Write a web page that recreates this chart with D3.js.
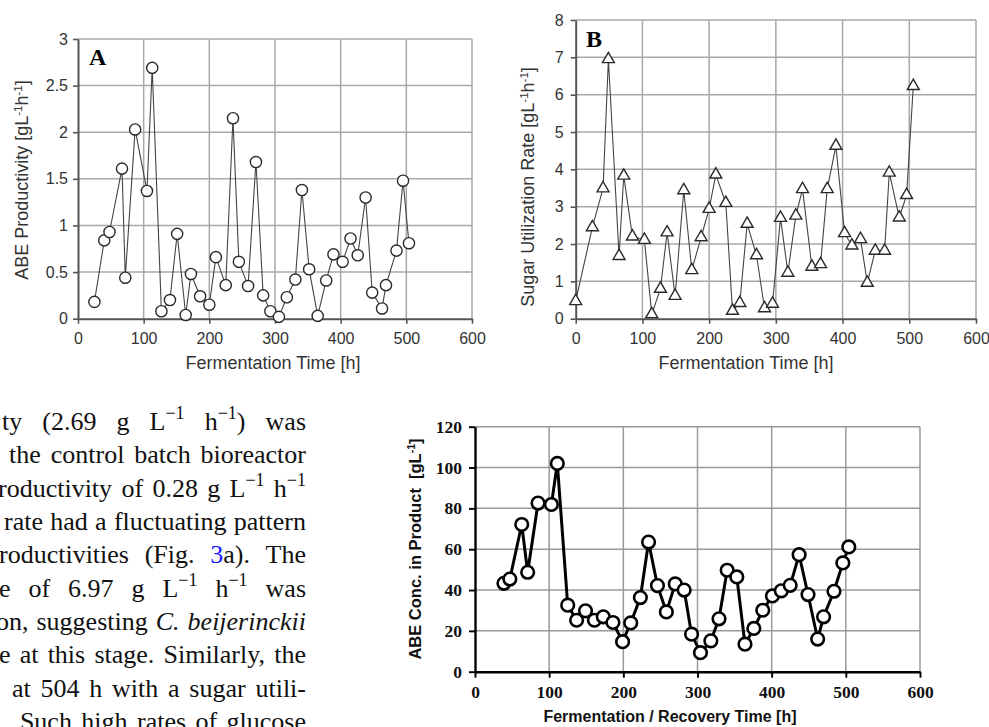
<!DOCTYPE html>
<html><head><meta charset="utf-8">
<script src="https://cdn.jsdelivr.net/npm/d3@7"></script>
<style>body{margin:0;background:#fff;overflow:hidden}svg{display:block}</style>
</head><body>
<svg id="c" width="989" height="727"></svg>
<script>
// ---------------- DATA ----------------
const xTicks = [0, 100, 200, 300, 400, 500, 600];

// Panel A: ABE productivity
const aTime = [25, 40, 48, 67, 72, 87, 105, 113, 127, 140, 151, 164, 172, 186, 200, 210, 225, 236, 245, 259, 271, 282, 293, 306, 318, 331, 341, 352, 365, 378, 389, 403, 415, 426, 438, 448, 463, 469, 485, 495, 504];
const aProd = [0.18, 0.84, 0.93, 1.61, 0.44, 2.03, 1.37, 2.69, 0.08, 0.20, 0.91, 0.04, 0.48, 0.24, 0.15, 0.66, 0.36, 2.15, 0.61, 0.35, 1.68, 0.25, 0.08, 0.02, 0.23, 0.42, 1.38, 0.53, 0.03, 0.41, 0.69, 0.61, 0.86, 0.68, 1.30, 0.28, 0.11, 0.36, 0.73, 1.48, 0.81];
const aYTicks = [0, 0.5, 1, 1.5, 2, 2.5, 3];

// Panel B: sugar utilization rate
const bTime = [0, 25, 41, 49, 65, 72, 85, 103, 114, 127, 137, 149, 162, 174, 188, 200, 210, 225, 235, 246, 257, 271, 283, 295, 307, 318, 330, 340, 354, 367, 377, 390, 403, 414, 427, 437, 449, 463, 470, 485, 496, 506];
const bRate = [0.47, 2.45, 3.49, 6.95, 1.68, 3.83, 2.20, 2.11, 0.12, 0.80, 2.31, 0.61, 3.44, 1.30, 2.18, 2.94, 3.86, 3.10, 0.21, 0.42, 2.54, 1.70, 0.28, 0.40, 2.70, 1.23, 2.76, 3.47, 1.39, 1.46, 3.47, 4.63, 2.29, 1.96, 2.13, 0.96, 1.82, 1.82, 3.91, 2.71, 3.31, 6.23];
const bYTicks = [0, 1, 2, 3, 4, 5, 6, 7, 8];

// Panel C: ABE concentration in product
const cTime = [39, 47, 63, 71, 85, 103, 111, 125, 137, 149, 161, 173, 186, 199, 210, 223, 234, 246, 258, 270, 282, 292, 304, 318, 329, 340, 353, 364, 376, 388, 401, 413, 425, 437, 449, 462, 470, 484, 496, 504];
const cConc = [43.3, 45.4, 72.1, 48.7, 82.6, 81.9, 102, 32.6, 25.2, 29.8, 25.2, 26.9, 24.1, 14.7, 23.9, 36.3, 63.5, 42.2, 29.3, 43, 40, 18.4, 9.3, 15.1, 25.9, 49.7, 46.4, 13.5, 21.2, 30.1, 37.1, 39.6, 42.3, 57.3, 37.8, 16, 26.9, 39.4, 53.3, 61.1];
const cYTicks = [0, 20, 40, 60, 80, 100, 120];

// ---------------- DRAW ----------------
const svg = d3.select("#c");
const SANS = "'Liberation Sans', Arial, sans-serif";
const SERIF = "'Liberation Serif', 'Times New Roman', serif";

function titleWithSup(sel, parts, supSize) {
  let shifted = false;
  parts.forEach(([t, sup]) => {
    const ts = sel.append("tspan").text(t);
    if (sup && !shifted) { ts.attr("dy", -6).attr("font-size", supSize); shifted = true; }
    else if (sup) { ts.attr("font-size", supSize); }
    else if (!sup && shifted) { ts.attr("dy", 6); shifted = false; }
  });
}

function panel(o) {
  const g = svg.append("g");
  const x = d3.scaleLinear().domain([0, 600]).range(o.xr);
  const y = d3.scaleLinear().domain(o.yd).range(o.yr);
  g.selectAll(".vg").data(xTicks.filter(d => d > 0)).join("line")
    .attr("x1", d => x(d)).attr("x2", d => x(d)).attr("y1", o.yr[0]).attr("y2", o.yr[1])
    .attr("stroke", o.grid).attr("stroke-width", 1.5);
  g.selectAll(".hg").data(o.yTicks.filter(d => d > 0)).join("line")
    .attr("x1", o.xr[0]).attr("x2", o.xr[1]).attr("y1", d => y(d)).attr("y2", d => y(d))
    .attr("stroke", o.grid).attr("stroke-width", 1.5);
  const ax = g.append("g").attr("transform", `translate(0,${o.yr[0]})`)
    .call(d3.axisBottom(x).tickValues(xTicks).tickSize(o.tick).tickSizeOuter(0).tickPadding(o.xpad).tickFormat(d => String(d)));
  const ay = g.append("g").attr("transform", `translate(${o.xr[0]},0)`)
    .call(d3.axisLeft(y).tickValues(o.yTicks).tickSize(o.tick).tickSizeOuter(0).tickPadding(o.ypad).tickFormat(d => String(d)));
  [ax, ay].forEach(a => {
    a.select(".domain").attr("stroke", o.axis).attr("stroke-width", o.axisW);
    a.selectAll(".tick line").attr("stroke", o.axis).attr("stroke-width", o.axisW * 0.8);
    a.selectAll(".tick text").attr("fill", o.labelColor).attr("font-family", o.tickFont)
      .attr("font-size", o.tickSize).attr("font-weight", o.tickWeight);
  });
  const line = d3.line().x((d, i) => x(o.t[i])).y(d => y(d));
  g.append("path").datum(o.v).attr("d", line).attr("fill", "none")
    .attr("stroke", o.lineColor).attr("stroke-width", o.lineW).attr("stroke-linejoin", "round");
  if (o.marker === "circle") {
    g.selectAll(".m").data(o.v).join("circle")
      .attr("cx", (d, i) => x(o.t[i])).attr("cy", d => y(d)).attr("r", o.r)
      .attr("fill", "#fff").attr("stroke", o.markColor).attr("stroke-width", o.markW);
  } else {
    const sym = d3.symbol().type(d3.symbolTriangle).size(62);
    g.selectAll(".m").data(o.v).join("path")
      .attr("transform", (d, i) => `translate(${x(o.t[i])},${y(d)})`).attr("d", sym)
      .attr("fill", "#fff").attr("stroke", o.markColor).attr("stroke-width", o.markW);
  }
  return g;
}

// Panel A
panel({xr: [78, 472], yr: [318.7, 39], yd: [0, 3], yTicks: aYTicks, t: aTime, v: aProd,
  grid: "#a8a8a8", axis: "#555", axisW: 2, tick: 5, xpad: 9, ypad: 5, labelColor: "#333",
  tickFont: SANS, tickSize: 16, tickWeight: "normal", lineColor: "#444", lineW: 1.1,
  marker: "circle", r: 5.6, markColor: "#2a2a2a", markW: 1.4});
svg.append("text").attr("x", 89).attr("y", 65).attr("font-family", SERIF).attr("font-weight", "bold")
  .attr("font-size", 24).text("A");
svg.append("text").attr("x", 273).attr("y", 369).attr("text-anchor", "middle").attr("font-family", SANS)
  .attr("font-size", 18).attr("fill", "#333").text("Fermentation Time [h]");
titleWithSup(svg.append("text").attr("transform", "translate(28,180) rotate(-90)").attr("text-anchor", "middle")
  .attr("font-family", SANS).attr("font-size", 18).attr("fill", "#333"),
  [["ABE Productivity [gL", false], ["-1", true], ["h", false], ["-1", true], ["]", false]], 11.5);

// Panel B
panel({xr: [575.7, 976], yr: [318.7, 20], yd: [0, 8], yTicks: bYTicks, t: bTime, v: bRate,
  grid: "#a8a8a8", axis: "#555", axisW: 2, tick: 5, xpad: 9, ypad: 7, labelColor: "#333",
  tickFont: SANS, tickSize: 16, tickWeight: "normal", lineColor: "#444", lineW: 1.1,
  marker: "triangle", markColor: "#2a2a2a", markW: 1.4});
svg.append("text").attr("x", 586).attr("y", 47).attr("font-family", SERIF).attr("font-weight", "bold")
  .attr("font-size", 24).text("B");
svg.append("text").attr("x", 746).attr("y", 369).attr("text-anchor", "middle").attr("font-family", SANS)
  .attr("font-size", 18).attr("fill", "#333").text("Fermentation Time [h]");
titleWithSup(svg.append("text").attr("transform", "translate(534,187) rotate(-90)").attr("text-anchor", "middle")
  .attr("font-family", SANS).attr("font-size", 18).attr("fill", "#333"),
  [["Sugar Utilization Rate [gL", false], ["-1", true], ["h", false], ["-1", true], ["]", false]], 11.5);

// Panel C
panel({xr: [475, 920], yr: [671.7, 426.7], yd: [0, 120], yTicks: cYTicks, t: cTime, v: cConc,
  grid: "#9a9a9a", axis: "#000", axisW: 2.4, tick: 6, xpad: 8, ypad: 7, labelColor: "#111",
  tickFont: SERIF, tickSize: 17.5, tickWeight: "bold", lineColor: "#000", lineW: 3,
  marker: "circle", r: 6.3, markColor: "#000", markW: 2.6});
svg.append("text").attr("x", 670).attr("y", 722).attr("text-anchor", "middle").attr("font-family", SANS)
  .attr("font-weight", "bold").attr("font-size", 16).attr("fill", "#111").text("Fermentation / Recovery Time [h]");
titleWithSup(svg.append("text").attr("transform", "translate(421,549) rotate(-90)").attr("text-anchor", "middle")
  .attr("font-family", SANS).attr("font-weight", "bold").attr("font-size", 16.5).attr("fill", "#111"),
  [["ABE Conc. in Product\u00a0 [gL", false], ["-1", true], ["]", false]], 10.5);

// ---------------- BODY TEXT (justified) ----------------
const S = t => ({t, s: "sup"});
const bodyLines = [
  [430, 2, [["ty"], ["(2.69"], ["g"], ["L", S("\u22121")], ["h", S("\u22121"), ")"], ["was"]]],
  [463.3, 9, [["the"], ["control"], ["batch"], ["bioreactor"]]],
  [496.7, -2, [["roductivity"], ["of"], ["0.28"], ["g"], ["L", S("\u22121")], ["h", S("\u22121")]]],
  [530, 4, [["rate"], ["had"], ["a"], ["fluctuating"], ["pattern"]]],
  [563.3, -1, [["roductivities"], ["(Fig."], [{t: "3", s: "blue"}, "a)."], ["The"]]],
  [596.7, -1, [["e"], ["of"], ["6.97"], ["g"], ["L", S("\u22121")], ["h", S("\u22121")], ["was"]]],
  [630, -4, [["on,"], ["suggesting"], [{t: "C.", s: "i"}], [{t: "beijerinckii", s: "i"}]]],
  [663.3, -1, [["e"], ["at"], ["this"], ["stage."], ["Similarly,"], ["the"]]],
  [696.7, 12, [["at"], ["504"], ["h"], ["with"], ["a"], ["sugar"], ["utili-"]]],
  [730, 4, [["."], ["Such"], ["high"], ["rates"], ["of"], ["glucose"]]]
];
const RIGHT = 306;
const tg = svg.append("g").attr("font-family", SERIF).attr("font-size", 26).attr("fill", "#111");
bodyLines.forEach(([by, left, words]) => {
  const els = words.map(w => {
    const te = tg.append("text").attr("y", by);
    let up = false;
    w.forEach(seg => {
      const sg = typeof seg === "string" ? {t: seg, s: ""} : seg;
      const ts = te.append("tspan").text(sg.t);
      if (sg.s === "sup") { ts.attr("font-size", 18).attr("dy", -11); up = true; }
      else if (up) { ts.attr("dy", 11); up = false; }
      if (sg.s === "blue") ts.attr("fill", "#1a1aff");
      if (sg.s === "i") ts.attr("font-style", "italic");
    });
    return te;
  });
  const widths = els.map(e => e.node().getComputedTextLength());
  const total = d3.sum(widths);
  const gap = els.length > 1 ? Math.max(4, (RIGHT - left - total) / (els.length - 1)) : 0;
  let cx = left;
  els.forEach((e, i) => { e.attr("x", cx); cx += widths[i] + gap; });
});
</script>
</body></html>
